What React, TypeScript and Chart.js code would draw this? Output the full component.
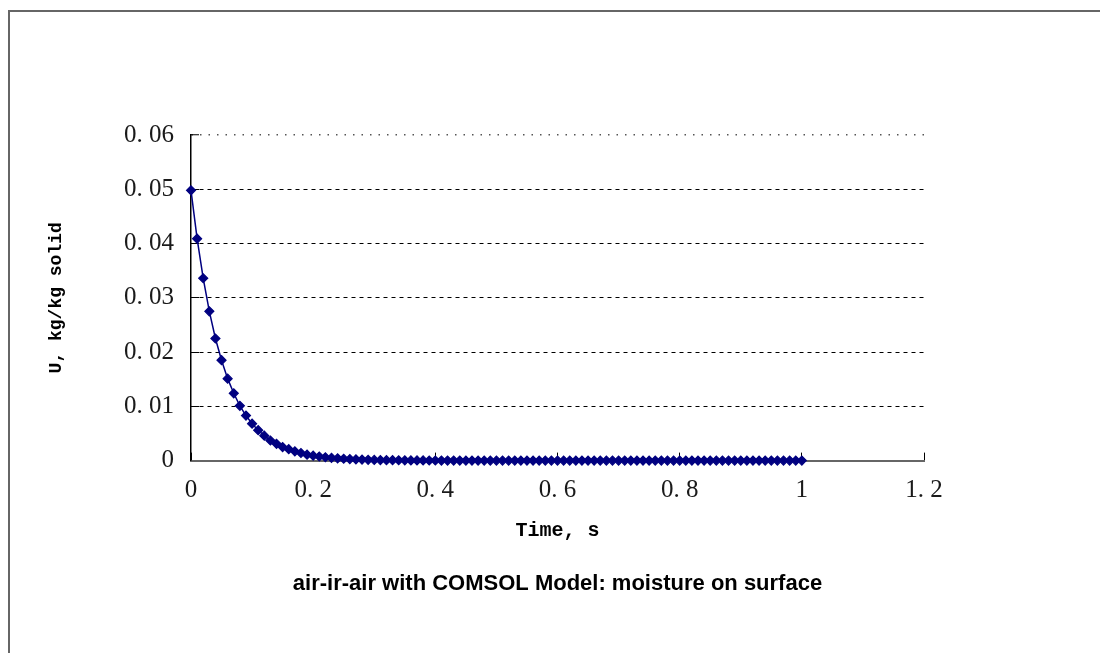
import React, { useEffect, useRef } from "react";
import { Chart, registerables } from "chart.js";

Chart.register(...registerables);

const TIME = [
  0, 0.01, 0.02, 0.03, 0.04, 0.05, 0.06, 0.07, 0.08, 0.09,
  0.1, 0.11, 0.12, 0.13, 0.14, 0.15, 0.16, 0.17, 0.18, 0.19,
  0.2, 0.21, 0.22, 0.23, 0.24, 0.25, 0.26, 0.27, 0.28, 0.29,
  0.3, 0.31, 0.32, 0.33, 0.34, 0.35, 0.36, 0.37, 0.38, 0.39,
  0.4, 0.41, 0.42, 0.43, 0.44, 0.45, 0.46, 0.47, 0.48, 0.49,
  0.5, 0.51, 0.52, 0.53, 0.54, 0.55, 0.56, 0.57, 0.58, 0.59,
  0.6, 0.61, 0.62, 0.63, 0.64, 0.65, 0.66, 0.67, 0.68, 0.69,
  0.7, 0.71, 0.72, 0.73, 0.74, 0.75, 0.76, 0.77, 0.78, 0.79,
  0.8, 0.81, 0.82, 0.83, 0.84, 0.85, 0.86, 0.87, 0.88, 0.89,
  0.9, 0.91, 0.92, 0.93, 0.94, 0.95, 0.96, 0.97, 0.98, 0.99,
  1.0,
];

const MOISTURE = [
  0.0498, 0.0409, 0.0336, 0.0275, 0.0225, 0.0185, 0.0151, 0.0124, 0.0101, 0.0083,
  0.0068, 0.0056, 0.0046, 0.0037, 0.0031, 0.0025, 0.0021, 0.0017, 0.0014, 0.0011,
  0.0009, 0.00076, 0.00062, 0.00051, 0.00042, 0.00034, 0.00028, 0.00023, 0.00019, 0.00015,
  0.00013, 0.0001, 0.00008, 0.00007, 0.00006, 0.00005, 0.00004, 0.00003, 0.00003, 0.00002,
  0.00002, 0.00001, 0.00001, 0.00001, 0.00001, 0, 0, 0, 0, 0,
  0, 0, 0, 0, 0, 0, 0, 0, 0, 0,
  0, 0, 0, 0, 0, 0, 0, 0, 0, 0,
  0, 0, 0, 0, 0, 0, 0, 0, 0, 0,
  0, 0, 0, 0, 0, 0, 0, 0, 0, 0,
  0, 0, 0, 0, 0, 0, 0, 0, 0, 0,
  0,
];

const X_TICK_LABELS = ["0", "0. 2", "0. 4", "0. 6", "0. 8", "1", "1. 2"];
const Y_TICK_LABELS = ["0", "0. 01", "0. 02", "0. 03", "0. 04", "0. 05", "0. 06"];

const CHART_TITLE = "air-ir-air with COMSOL Model: moisture on surface";
const X_TITLE = "Time, s";
const Y_TITLE = "U, kg/kg solid";

export default function App() {
  const canvasRef = useRef<HTMLCanvasElement | null>(null);

  useEffect(() => {
    if (!canvasRef.current) return;
    const points = TIME.map((t, i) => ({ x: t, y: MOISTURE[i] }));
    const chart = new Chart(canvasRef.current, {
      type: "line",
      data: {
        datasets: [
          {
            data: points,
            borderColor: "#000080",
            backgroundColor: "#000080",
            borderWidth: 1.5,
            pointStyle: "rectRot",
            pointRadius: 4.5,
            pointBorderWidth: 1.2,
            pointBorderColor: "#000080",
            pointBackgroundColor: "#000080",
            tension: 0,
            clip: false,
          } as any,
        ],
      },
      options: {
        animation: false,
        responsive: false,
        layout: { padding: { top: 123, right: 176, left: 0, bottom: 56 } },
        plugins: {
          legend: { display: false },
          tooltip: { enabled: false },
          title: {
            display: true,
            position: "bottom",
            fullSize: false,
            text: CHART_TITLE,
            color: "#000",
            font: { family: "'Liberation Sans', Arial, sans-serif", size: 22, weight: "bold" },
            padding: { top: 20, bottom: 0 },
          },
        },
        scales: {
          x: {
            type: "linear",
            min: 0,
            max: 1.2,
            afterFit: (s: any) => {
              s.height = 90;
            },
            ticks: {
              stepSize: 0.2,
              autoSkip: false,
              maxRotation: 0,
              padding: 23,
              color: "#1a1a1a",
              font: { family: "'Liberation Serif', serif", size: 25 },
              callback: (_v: any, i: number) => X_TICK_LABELS[i],
            },
            grid: {
              display: true,
              drawOnChartArea: false,
              drawTicks: true,
              tickLength: -8,
              tickColor: "#000",
              tickWidth: 1,
            },
            border: { display: true, color: "#666", width: 2 },
            title: {
              display: true,
              text: X_TITLE,
              color: "#000",
              font: { family: "'Liberation Mono', monospace", size: 20, weight: "bold" },
              padding: { top: 0, bottom: 8 },
            },
          },
          y: {
            type: "linear",
            min: 0,
            max: 0.06,
            afterFit: (s: any) => {
              s.width = 181;
            },
            ticks: {
              stepSize: 0.01,
              padding: 25,
              color: "#1a1a1a",
              font: { family: "'Liberation Serif', serif", size: 25 },
              callback: (_v: any, i: number) => Y_TICK_LABELS[i],
            },
            grid: {
              display: true,
              drawOnChartArea: true,
              drawTicks: true,
              tickLength: -8,
              tickColor: "#000",
              tickWidth: 1,
              color: (ctx: any) => {
                if (ctx.index === 0) return "rgba(0,0,0,0)";
                if (ctx.index === Y_TICK_LABELS.length - 1) return "#555";
                return "#000";
              },
              lineWidth: (ctx: any) => (ctx.index === Y_TICK_LABELS.length - 1 ? 1.5 : 1),
            },
            border: {
              display: true,
              color: "#000",
              width: 1.5,
              dash: (ctx: any) => (ctx.index === Y_TICK_LABELS.length - 1 ? [1.5, 7] : [4, 4]),
            } as any,
            title: {
              display: true,
              text: Y_TITLE,
              color: "#000",
              font: { family: "'Liberation Mono', monospace", size: 18, weight: "bold" },
              padding: { top: 36, bottom: 0 },
            },
          },
        },
      } as any,
    });
    return () => chart.destroy();
  }, []);

  return (
    <div
      style={{
        position: "absolute",
        left: 8,
        top: 10,
        width: 1092,
        height: 643,
        boxSizing: "border-box",
        borderTop: "2px solid #666",
        borderLeft: "2px solid #666",
        background: "#fff",
        overflow: "hidden",
      }}
    >
      <canvas ref={canvasRef} width={1090} height={641} style={{ display: "block" }} />
    </div>
  );
}
